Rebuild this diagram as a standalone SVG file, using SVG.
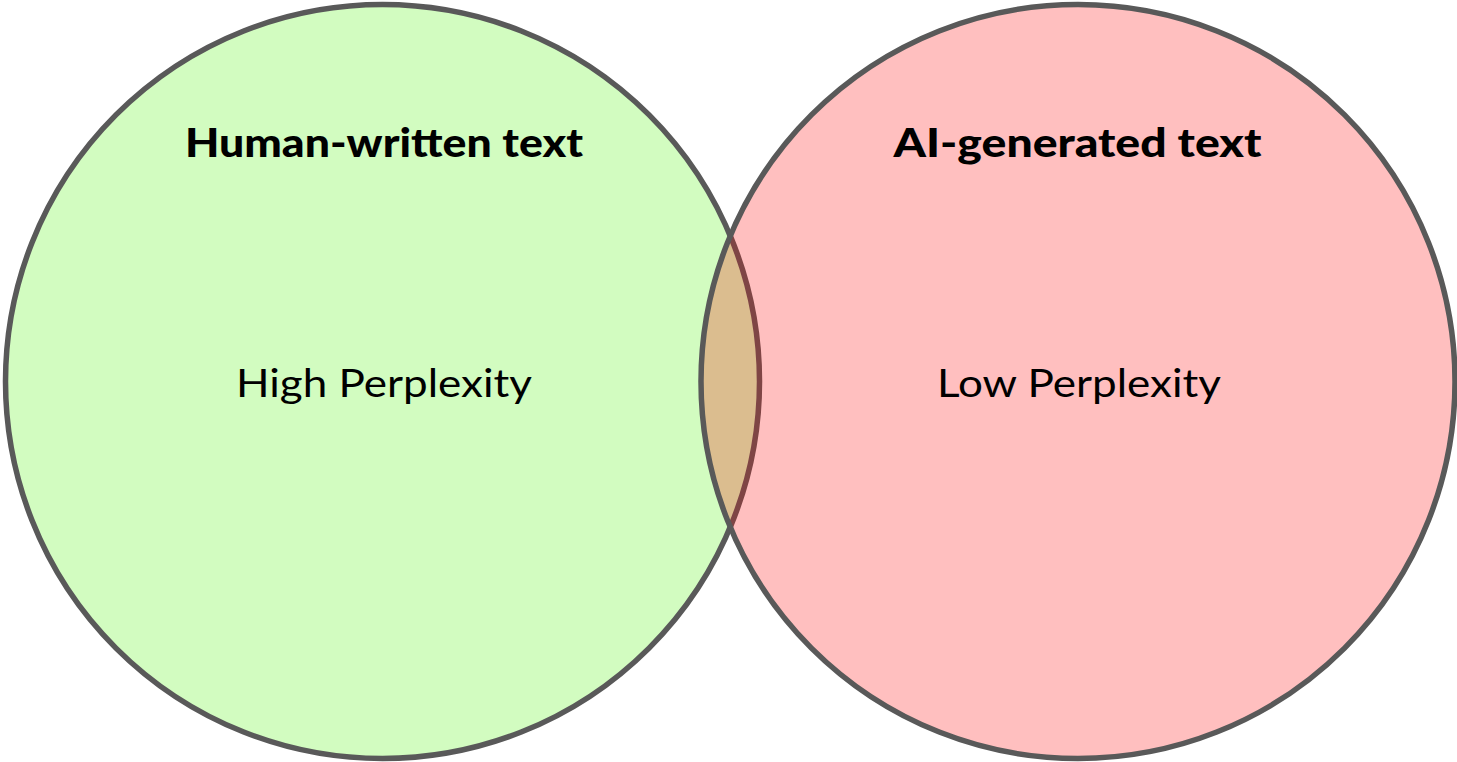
<svg xmlns="http://www.w3.org/2000/svg" width="1457" height="762" viewBox="0 0 1457 762">
  <style>
    .ring { stroke: #595959; stroke-width: 5.5; }
    .title { font-family: Lato, "Noto Sans", "DejaVu Sans", sans-serif; font-weight: 900; font-size: 40px; fill: #000; text-anchor: middle; }
    .label { font-family: Lato, "Noto Sans", "DejaVu Sans", sans-serif; font-weight: 400; font-size: 39px; fill: #000; text-anchor: middle; }
  </style>
  <rect width="1457" height="762" fill="#ffffff"/>

  <!-- Human-written set -->
  <g id="human">
    <circle cx="382.5" cy="381.5" r="377" fill="#d2fcc0" class="ring"/>
  </g>

  <!-- AI-generated set, with the shared lens -->
  <g id="ai">
    <circle cx="1078" cy="381.5" r="377" fill="#ffbfbf"/>
    <path id="overlap" d="M 730.25 235.9 A 377 377 0 0 1 730.25 527.1 A 377 377 0 0 1 730.25 235.9 Z" fill="#dbbd8f"/>
    <!-- edge of the human set seen through the AI set -->
    <path d="M 730.25 235.9 A 377 377 0 0 1 730.25 527.1" fill="none" stroke="#7f4545" stroke-width="5.5"/>
    <circle cx="1078" cy="381.5" r="377" fill="none" class="ring"/>
  </g>

  <g id="labels">
    <text class="title" x="384" y="157" textLength="398" lengthAdjust="spacingAndGlyphs">Human-written text</text>
    <text class="title" x="1077.5" y="157" textLength="368" lengthAdjust="spacingAndGlyphs">AI-generated text</text>
    <text class="label" x="384" y="397" textLength="296" lengthAdjust="spacingAndGlyphs">High Perplexity</text>
    <text class="label" x="1079" y="397" textLength="284" lengthAdjust="spacingAndGlyphs">Low Perplexity</text>
  </g>
</svg>
